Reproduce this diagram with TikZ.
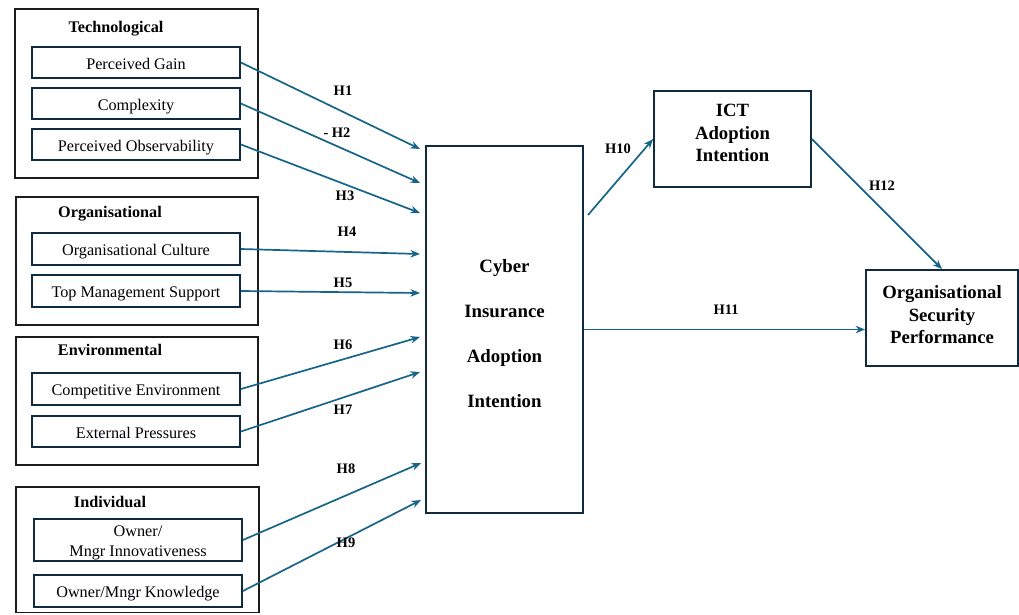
\documentclass[tikz,border=0pt]{standalone}
\usepackage{fontspec}
\setmainfont{Liberation Serif}
\usetikzlibrary{arrows.meta,calc}
\definecolor{navy}{RGB}{16,42,64}
\definecolor{frame}{RGB}{28,28,28}
\definecolor{link}{RGB}{22,100,136}
\tikzset{
  groupbox/.style={draw=frame,line width=1.8pt,fill=none},
  itembox/.style={draw=navy,line width=1.8pt,minimum width=208pt,align=center,inner sep=0pt,
    text height=13.5pt,text depth=0pt,font=\fontsize{16.2}{20}\selectfont},
  itemtext/.style={align=center,inner sep=0pt,font=\fontsize{16.2}{20}\selectfont},
  grouptitle/.style={font=\fontsize{16.2}{19}\selectfont\bfseries,inner sep=0pt,
    text height=11pt,text depth=0pt},
  hlabel/.style={font=\fontsize{14.5}{17}\selectfont\bfseries,inner sep=0pt},
  bigbox/.style={draw=navy,line width=1.8pt,inner sep=0pt},
  bigtext/.style={align=center,inner sep=0pt,font=\fontsize{18.7}{22.5}\selectfont\bfseries},
  link/.style={draw=link,line width=1.7pt,-{Stealth[length=9.5pt,width=7.5pt]}}
}
\begin{document}
\begin{tikzpicture}[x=1pt,y=-1pt]
\useasboundingbox (0,0) rectangle (1019,614);

% construct groups
\draw[groupbox] (15,9) rectangle (258,178);
\draw[groupbox] (16,197) rectangle (258,325);
\draw[groupbox] (16,337) rectangle (258,465);
\draw[groupbox] (16,487) rectangle (259,612.5);

\node[grouptitle] (tTech) at (116,27) {Technological};
\node[grouptitle] (tOrg) at (110,212) {Organisational};
\node[grouptitle] (tEnv) at (110,350) {Environmental};
\node[grouptitle] (tInd) at (110,502) {Individual};

% antecedent constructs
\node[itembox,minimum height=31pt] (pg) at (136,62.5) {Perceived Gain};
\node[itembox,minimum height=31pt] (cx) at (136,103.5) {Complexity};
\node[itembox,minimum height=31pt] (po) at (136,144.5) {Perceived Observability};
\node[itembox,minimum height=32pt] (oc) at (136,249) {Organisational Culture};
\node[itembox,minimum height=32pt] (tm) at (136,291) {Top Management Support};
\node[itembox,minimum height=32pt] (ce) at (136,389) {Competitive Environment};
\node[itembox,minimum height=31pt] (ep) at (136,431.5) {External Pressures};
\node[itembox,minimum height=42pt] (oi) at (138,540) {};
\node[itemtext] (oiText) at ($(oi.center)+(0,3)$) {Owner/\\Mngr Innovativeness};
\node[itembox,minimum height=32pt] (ok) at (138,591) {Owner/Mngr Knowledge};

% outcome constructs
\node[bigbox,minimum width=157pt,minimum height=367pt] (cia) at (504.5,329.5) {};
\node[bigtext,font=\fontsize{18.8}{45}\selectfont\bfseries] (ciaText) at ($(cia.center)+(0,4)$)
  {Cyber\\Insurance\\Adoption\\Intention};
\node[bigbox,minimum width=157pt,minimum height=96pt] (ict) at (732.5,139) {};
\node[bigtext] (ictText) at ($(ict.center)+(0,-6)$) {ICT\\Adoption\\Intention};
\node[bigbox,minimum width=152pt,minimum height=96pt] (osp) at (942,318) {};
\node[bigtext] (ospText) at ($(osp.center)+(0,-3)$) {Organisational\\Security\\Performance};

% arrow end points in front of the central construct
\coordinate (e1) at (420,149);
\coordinate (e2) at (420,183);
\coordinate (e3) at (420,213);
\coordinate (e4) at (420,254);
\coordinate (e5) at (420,293);
\coordinate (e6) at (420,337);
\coordinate (e7) at (420,372);
\coordinate (e8) at (421,463);
\coordinate (e9) at (421,500);
\coordinate (s10) at (588,215);

\draw[link] (pg.east) -- (e1);
\draw[link] (cx.east) -- (e2);
\draw[link] (po.east) -- (e3);
\draw[link] (oc.east) -- (e4);
\draw[link] (tm.east) -- (e5);
\draw[link] (ce.east) -- (e6);
\draw[link] (ep.east) -- (e7);
\draw[link] (oi.east) -- (e8);
\draw[link] (ok.east) -- (e9);
\draw[link] (s10) -- (ict.west);
\draw[link] (ict.east) -- (osp.north);
\draw[link] (cia.east) -- (cia.east -| osp.west);

% hypothesis labels
\node[hlabel] (h1) at (343,91) {H1};
\node[hlabel] (h2) at (337,133) {- H2};
\node[hlabel] (h3) at (345,196) {H3};
\node[hlabel] (h4) at (347,232) {H4};
\node[hlabel] (h5) at (343,283) {H5};
\node[hlabel] (h6) at (343,345) {H6};
\node[hlabel] (h7) at (343,410) {H7};
\node[hlabel] (h8) at (346,469) {H8};
\node[hlabel] (h9) at (346,543) {H9};
\node[hlabel] (h10) at (618,149) {H10};
\node[hlabel] (h11) at (726,310) {H11};
\node[hlabel] (h12) at (882,186) {H12};
\end{tikzpicture}
\end{document}
